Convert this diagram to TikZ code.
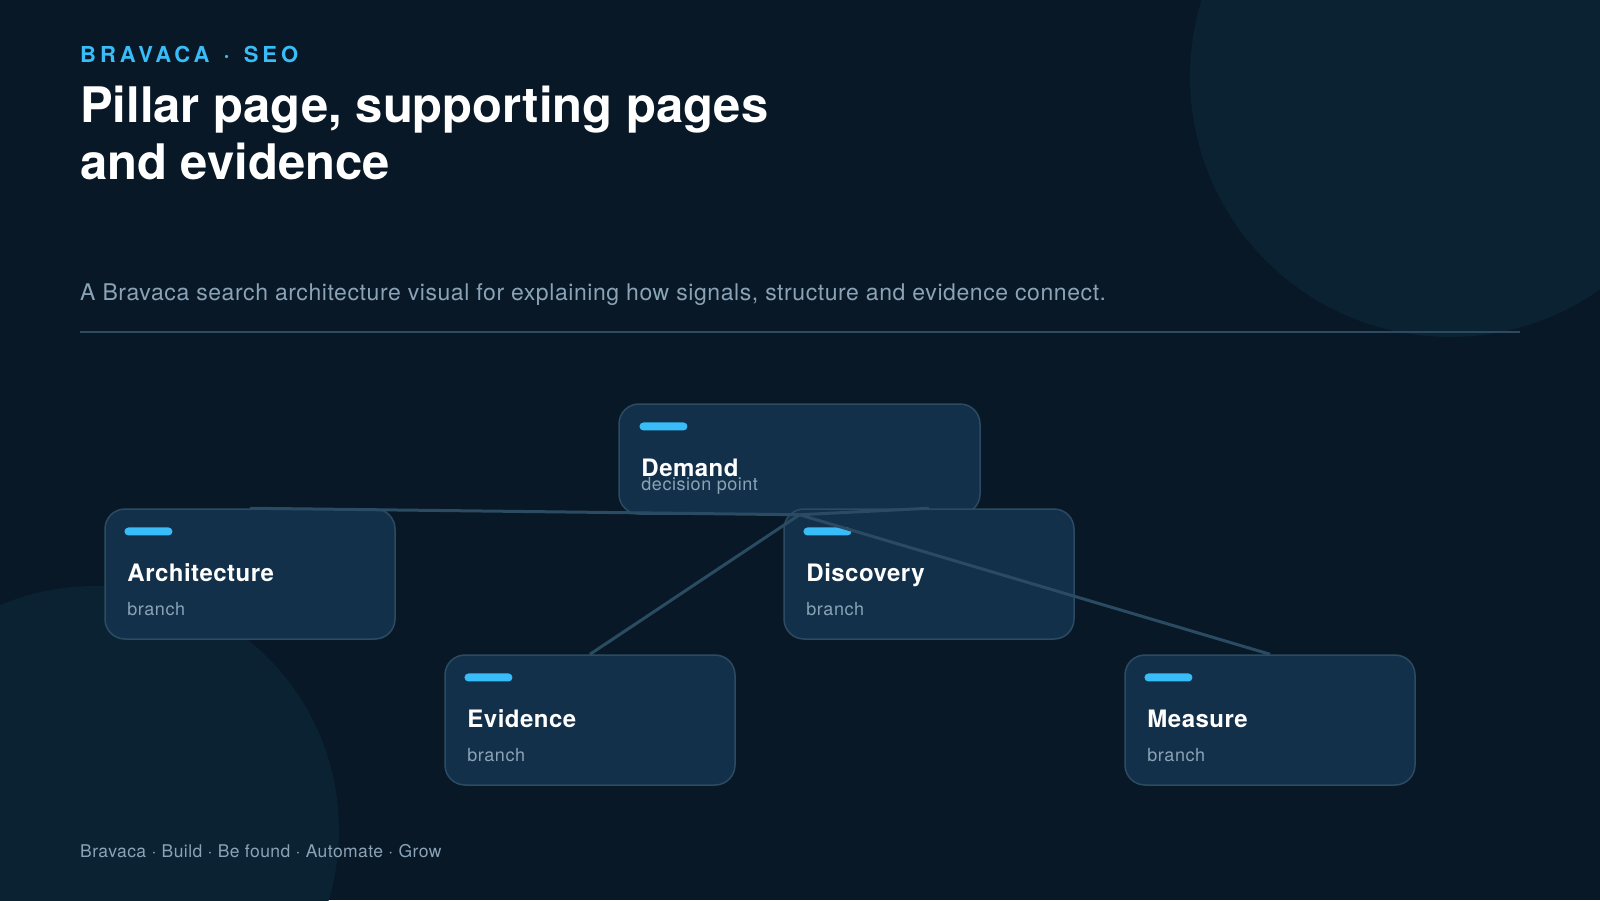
\documentclass[tikz,border=0pt]{standalone}
\usepackage{fontspec}
\setmainfont{TeX Gyre Heros}
\usetikzlibrary{positioning}

\definecolor{bg}{HTML}{081826}
\definecolor{blob}{HTML}{0B2232}
\definecolor{boxfill}{HTML}{12304A}
\definecolor{boxline}{HTML}{2C4B62}
\definecolor{linkcol}{HTML}{2A4B62}
\definecolor{accent}{HTML}{38BDF8}
\definecolor{subtext}{HTML}{8AA3B6}

\begin{document}
\begin{tikzpicture}[x=1pt,y=-1pt,
  box/.style={draw=boxline, line width=1.5pt, fill=boxfill, rounded corners=20pt,
    minimum width=290pt, minimum height=130pt, inner sep=0pt},
  bar/.style={fill=accent, rounded corners=4pt, minimum width=48pt,
    minimum height=8pt, inner sep=0pt, anchor=north west},
  boxtitle/.style={anchor=base west, inner sep=0pt, text=white,
    font=\fontsize{24}{28}\selectfont\bfseries\addfontfeature{LetterSpace=2}},
  boxsub/.style={anchor=base west, inner sep=0pt, text=subtext,
    font=\fontsize{18}{21}\selectfont\addfontfeature{LetterSpace=3}},
  link/.style={draw=linkcol, line width=3pt}]

% background and soft circles
\fill[bg] (0,0) rectangle (1600,900);
\begin{scope}
\clip (0,0) rectangle (1600,900);
\fill[blob] (1450,77) circle (260);
\fill[blob] (95,830) circle (244);
\end{scope}

% header
\node[name=kicker, anchor=base west, inner sep=0pt, text=accent,
  font=\fontsize{22}{26}\selectfont\bfseries\addfontfeature{LetterSpace=18}]
  at (80,62) {BRAVACA\hspace{4pt} · \hspace{4pt}SEO};
\node[name=title_1, anchor=base west, inner sep=0pt, text=white,
  font=\fontsize{49}{57}\selectfont\bfseries] at (80,122) {Pillar page, supporting pages};
\node[name=title_2, anchor=base west, inner sep=0pt, text=white,
  font=\fontsize{49}{57}\selectfont\bfseries] at (80,179) {and evidence};
\node[name=lead, anchor=base west, inner sep=0pt, text=subtext,
  font=\fontsize{23}{27}\selectfont\addfontfeature{LetterSpace=2.5}] at (80,300)
  {A Bravaca search architecture visual for explaining how signals, structure and evidence connect.};
\draw[boxline, line width=2pt] (80,332) -- (1520,332);

% boxes
\node[box, name=demand, minimum width=361pt, minimum height=110pt] at (799.5,459) {};
\node[box, name=arch] at (250,574) {};
\node[box, name=disc] at (929,574) {};
\node[box, name=evid] at (590,720) {};
\node[box, name=meas] at (1270,720) {};

\node[bar, name=demand_bar] at ([shift={(21,19)}]demand.north west) {};
\node[bar, name=arch_bar] at ([shift={(20,19)}]arch.north west) {};
\node[bar, name=disc_bar] at ([shift={(20,19)}]disc.north west) {};
\node[bar, name=evid_bar] at ([shift={(20,19)}]evid.north west) {};
\node[bar, name=meas_bar] at ([shift={(20,19)}]meas.north west) {};

% links
\draw[link] (demand.south) edge (arch.north);
\draw[link] (demand.south) edge (disc.north);
\draw[link] (demand.south) edge (evid.north);
\draw[link] (demand.south) edge (meas.north);

% labels
\node[boxtitle, name=demand_title] at ([shift={(23,73)}]demand.north west) {Demand};
\node[boxsub, name=demand_sub] at ([shift={(23,87)}]demand.north west) {decision point};
\node[boxtitle, name=arch_title] at ([shift={(23,73)}]arch.north west) {Architecture};
\node[boxsub, name=arch_sub] at ([shift={(23,107)}]arch.north west) {branch};
\node[boxtitle, name=disc_title] at ([shift={(23,73)}]disc.north west) {Discovery};
\node[boxsub, name=disc_sub] at ([shift={(23,107)}]disc.north west) {branch};
\node[boxtitle, name=evid_title] at ([shift={(23,73)}]evid.north west) {Evidence};
\node[boxsub, name=evid_sub] at ([shift={(23,107)}]evid.north west) {branch};
\node[boxtitle, name=meas_title] at ([shift={(23,73)}]meas.north west) {Measure};
\node[boxsub, name=meas_sub] at ([shift={(23,107)}]meas.north west) {branch};

% footer
\node[name=footer, anchor=base west, inner sep=0pt, text=subtext,
  font=\fontsize{17.5}{20}\selectfont\addfontfeature{LetterSpace=2.5}] at (80,857) {Bravaca · Build · Be found · Automate · Grow};
\end{tikzpicture}
\end{document}
